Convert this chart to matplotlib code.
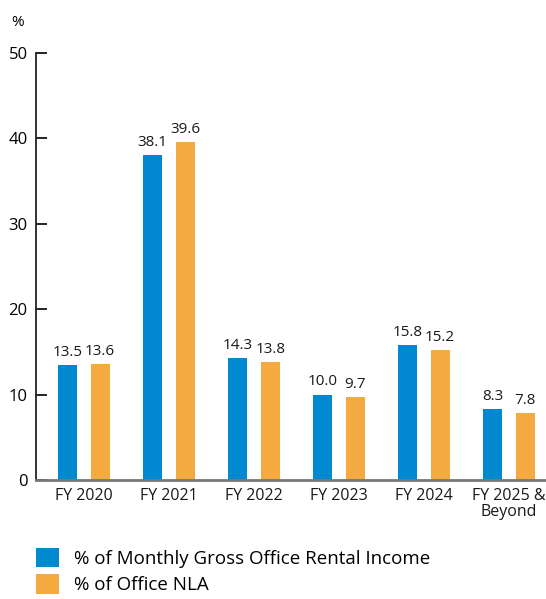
import numpy as np
import matplotlib.pyplot as plt

plt.rcParams['font.family'] = ['Open Sans', 'DejaVu Sans']

# data
categories = ["FY 2020", "FY 2021", "FY 2022", "FY 2023", "FY 2024", "FY 2025 &\nBeyond"]
income = [13.5, 38.1, 14.3, 10.0, 15.8, 8.3]
nla = [13.6, 39.6, 13.8, 9.7, 15.2, 7.8]
series_names = ["% of Monthly Gross Office Rental Income", "% of Office NLA"]
colors = ["#0089D1", "#F5A941"]

fig = plt.figure(figsize=(5.46, 5.99), dpi=100)
ax = fig.add_axes([36 / 546, 119 / 599, 1 - 36 / 546, 427 / 599])

x = np.arange(len(categories))
w = 0.224
off = 0.19
b1 = ax.bar(x - off, income, w, color=colors[0], label=series_names[0])
b2 = ax.bar(x + off, nla, w, color=colors[1], label=series_names[1])

for bars, vals in ((b1, income), (b2, nla)):
    for r, v in zip(bars, vals):
        ax.text(r.get_x() + r.get_width() / 2, v + 0.6, f"{v:.1f}",
                ha="center", va="bottom", fontsize=11, color="#1a1a1a")

ax.set_xlim(-0.565, 5.435)
ax.set_ylim(0, 50)
ax.set_yticks(range(0, 51, 10))
ax.set_xticks(x)
ax.set_xticklabels(categories, fontsize=11.5, linespacing=1.0, color="#1a1a1a")
ax.tick_params(axis="y", direction="in", length=8, width=1.2, labelsize=12, pad=6)
ax.tick_params(axis="x", length=0, pad=6)

for s in ("top", "right"):
    ax.spines[s].set_visible(False)
ax.spines["left"].set_linewidth(1.3)
ax.spines["left"].set_color("#222222")
ax.spines["bottom"].set_linewidth(2)
ax.spines["bottom"].set_color("#777777")

fig.text(11 / 546, 1 - 22 / 599, "%", fontsize=11, ha="left", va="center")

fig.legend(handles=[b1, b2], loc="upper left", bbox_to_anchor=(28 / 546, 1 - 540 / 599),
           frameon=False, fontsize=13.5, handlelength=1.25, handleheight=1.25,
           handletextpad=0.8, labelspacing=0.35, borderaxespad=0)

fig.savefig("out.png", dpi=100)
